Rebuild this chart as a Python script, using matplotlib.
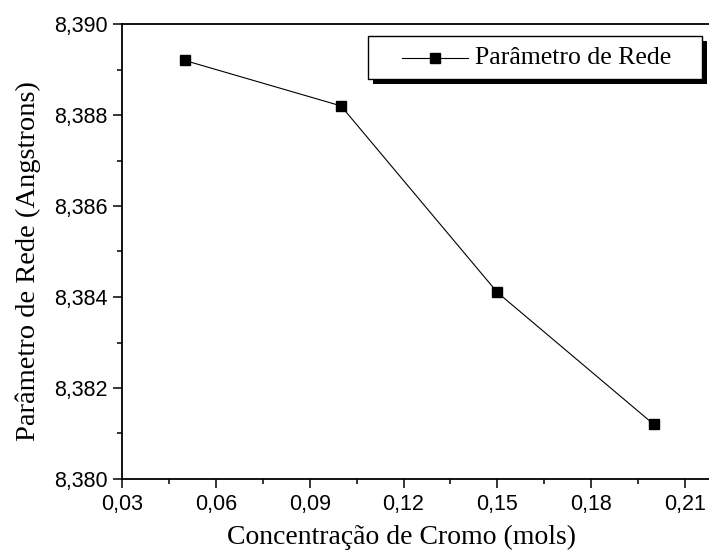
import matplotlib
matplotlib.use("Agg")
import matplotlib.pyplot as plt
from matplotlib.lines import Line2D
from matplotlib.patches import Rectangle
from matplotlib.ticker import MultipleLocator, FuncFormatter

# concentration of chromium (mols) and lattice parameter (Angstrons)
concentracao = [0.05, 0.10, 0.15, 0.20]
parametro = [8.3892, 8.3882, 8.3841, 8.3812]
serie_label = "Parâmetro de Rede"

W, H = 709, 551
fig = plt.figure(figsize=(W / 100, H / 100), dpi=100)

# axes run past the right edge of the canvas on purpose
left, bottom, top = 122 / W, 1 - 479 / H, 1 - 24 / H
ax = fig.add_axes([left, bottom, 610 / W, top - bottom])

ax.plot(concentracao, parametro, color="black", lw=0.8,
        marker="s", markersize=6.5, markerfacecolor="black", markeredgecolor="black")

ax.set_xlim(0.03, 0.225)
ax.set_ylim(8.380, 8.390)
ax.xaxis.set_major_locator(MultipleLocator(0.03))
ax.xaxis.set_minor_locator(MultipleLocator(0.015))
ax.yaxis.set_major_locator(MultipleLocator(0.002))
ax.yaxis.set_minor_locator(MultipleLocator(0.001))
ax.xaxis.set_major_formatter(FuncFormatter(lambda v, p: f"{v:.2f}".replace(".", ",")))
ax.yaxis.set_major_formatter(FuncFormatter(lambda v, p: f"{v:.3f}".replace(".", ",")))

for s in ax.spines.values():
    s.set_linewidth(1.3)
ax.tick_params(which="both", direction="out", top=False, right=False, width=1.1)
ax.tick_params(which="major", length=6.5, pad=4, labelsize=15.5)
ax.tick_params(which="minor", length=3.6)
for lab in ax.get_xticklabels() + ax.get_yticklabels():
    lab.set_family("Liberation Sans")

serif = "Liberation Serif"
fig.text(0.5 * (228 + 575) / W, 1 - 537 / H, "Concentração de Cromo (mols)",
         family=serif, fontsize=20, ha="center", va="center")
fig.text(28 / W, 1 - 261 / H, "Parâmetro de Rede (Angstrons)",
         family=serif, fontsize=20.5, ha="center", va="center", rotation=90)

# legend box with offset shadow
tf = fig.transFigure
fig.add_artist(Rectangle((373 / W, 1 - 84 / H), 334 / W, 43 / H, transform=tf,
                         facecolor="black", edgecolor="black", lw=0))
fig.add_artist(Rectangle((368 / W, 1 - 79 / H), 334 / W, 43 / H, transform=tf,
                         facecolor="white", edgecolor="black", lw=1.0))
ly = 1 - 57.5 / H
fig.add_artist(Line2D([402 / W, 468 / W], [ly, ly], transform=tf, color="black", lw=0.8))
fig.add_artist(Line2D([435 / W], [ly], transform=tf, marker="s", markersize=6.5,
                      color="black", lw=0))
fig.text(475 / W, ly, serie_label, family=serif, fontsize=18.5, ha="left", va="center")

fig.savefig("out.png", dpi=100)
